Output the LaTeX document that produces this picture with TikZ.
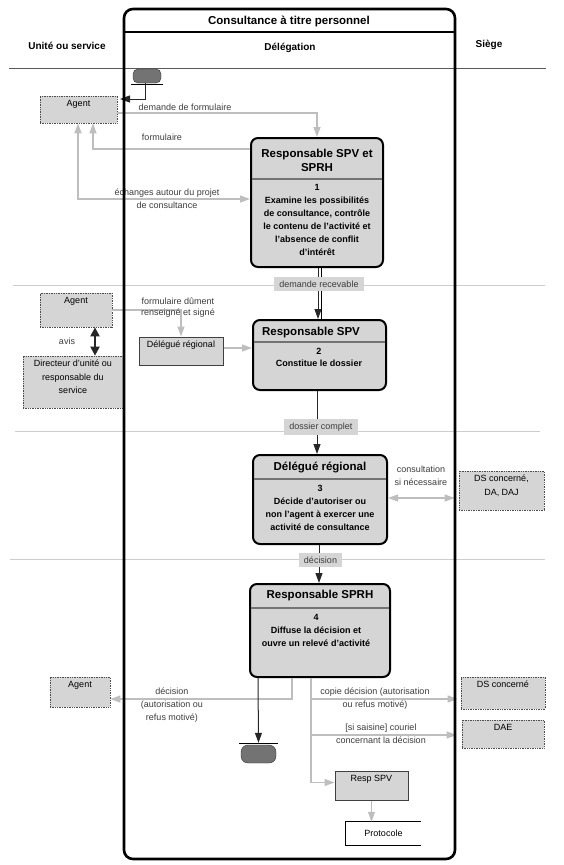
\documentclass[tikz,border=0pt]{standalone}
\usepackage{fontspec}
\setmainfont{Liberation Sans}
\usepackage{xcolor}
\usetikzlibrary{arrows.meta}
\usetikzlibrary{math}
\definecolor{qfill}{RGB}{213,213,213}
\definecolor{qline}{RGB}{190,190,190}
\definecolor{qtext}{RGB}{60,60,60}
\definecolor{qlane}{RGB}{205,205,205}

\begin{document}
\begin{tikzpicture}[x=1pt,y=-1pt,
  actbox/.style={draw, line width=2pt, rounded corners=7pt, fill=qfill, inner sep=0pt},
  sep/.style={draw=black!55, line width=2pt},
  acthead/.style={font=\fontsize{11.5}{14}\selectfont\bfseries, align=center, inner sep=0pt},
  acttext/.style={font=\fontsize{9}{13}\selectfont\bfseries, align=center, inner sep=0pt},
  boxlabel/.style={anchor=north, yshift=-4.5pt, inner sep=0pt, align=center, font=\fontsize{9}{13.5}\selectfont},
  extbox/.style={draw=black!70, densely dotted, line width=0.7pt, fill=qfill, inner sep=0pt, label={[boxlabel]north:#1}},
  intbox/.style={draw=black!75, line width=1pt, fill=qfill, inner sep=0pt, label={[boxlabel]north:#1}},
  note/.style={text=qtext, align=center, inner sep=0pt, font=\fontsize{9}{13}\selectfont},
  tag/.style={fill=qfill, text=qtext, inner xsep=5pt, inner ysep=4pt, font=\fontsize{9}{11}\selectfont},
  pill/.style={draw=black!80, fill=black!55, inner sep=0pt},
  grayflow/.style={draw=qline, line width=1.3pt, -{Triangle[length=10pt,width=7pt]}},
  blackflow/.style={draw=black!85, line width=1pt, -{Triangle[length=10pt,width=7pt]}},
  lane/.style={draw=qlane, line width=0.9pt},
  lanehead/.style={font=\fontsize{10}{12}\selectfont\bfseries}
]

\tikzmath{
\W = 563;
\H = 865;
%frame
\fl = 124;
\fr = 455;
\ft = 9;
\fb = 859;
\fh = 32; %title band
}

\useasboundingbox (0,0) rectangle (\W,\H);

%lanes:
\draw[lane, draw=black!65] (9,68) -- (546,68);
\draw[lane] (13,285) -- (545,285);
\draw[lane] (15,431) -- (540,431);
\draw[lane] (10,559) -- (545,559);

%headers:
\node[font=\fontsize{11.5}{14}\selectfont\bfseries] (htitle) at (289,21) {Consultance à titre personnel};
\node[lanehead] (hunit) at (67,46) {Unité ou service};
\node[lanehead] (hdel) at (290,48) {Délégation};
\node[lanehead] (hsiege) at (489,45) {Siège};

%start and end
\node[pill, rounded corners=5pt, minimum width=28pt, minimum height=14pt] (start) at (147,76) {};
\draw[line width=0.8pt] (131,84) -- (163,84);
\node[pill, rounded corners=7pt, minimum width=35pt, minimum height=18pt] (stop) at (258.5,754) {};
\draw[line width=0.8pt] (239,743) -- (278,743);

%actions
\node[actbox, minimum width=132pt, minimum height=129pt] (b1) at (317,202.5) {};
\draw[sep] (252,179) -- (382,179);
\node[acthead] (b1h) at (317,160) {Responsable SPV et\\SPRH};
\node[acttext] (b1t) at (317,220) {1\\Examine les possibilités\\de consultance, contrôle\\le contenu de l'activité et\\l'absence de conflit\\d'intérêt};

\node[actbox, minimum width=133pt, minimum height=70pt] (b2) at (319.5,355) {};
\draw[sep] (254,342) -- (385,342);
\node[acthead] (b2h) at (311,333) {Responsable SPV};
\node[acttext, font=\fontsize{9}{12}\selectfont\bfseries] (b2t) at (319,357) {2\\Constitue le dossier};

\node[actbox, minimum width=134pt, minimum height=89pt] (b3) at (320,499.5) {};
\draw[sep] (254,479) -- (386,479);
\node[acthead] (b3h) at (320,467) {Délégué régional};
\node[acttext] (b3t) at (320,507.5) {3\\Décide d'autoriser ou\\non l'agent à exercer une\\activité de consultance};

\node[actbox, minimum width=140pt, minimum height=93pt] (b4) at (320,630.5) {};
\draw[sep] (251,608) -- (389,608);
\node[acthead] (b4h) at (320,596) {Responsable SPRH};
\node[acttext] (b4t) at (316,630) {4\\Diffuse la décision et\\ouvre un relevé d'activité};

%other boxes
\node[extbox=Agent, minimum width=77pt, minimum height=27pt] (agent1) at (78.5,109.5) {};
\node[extbox=Agent, minimum width=72pt, minimum height=34pt] (agent2) at (76,310) {};
\node[extbox={Directeur d'unité ou\\responsable du\\service}, minimum width=100pt, minimum height=52pt] (dir) at (73,382) {};
\node[intbox={Délégué régional}, minimum width=84pt, minimum height=28pt] (dr) at (181,351) {};
\node[extbox={DS concerné,\\DA, DAJ}, minimum width=85pt, minimum height=39pt] (ds3) at (501.5,490.5) {};
\node[extbox=Agent, minimum width=60pt, minimum height=30pt] (agent3) at (80,692) {};
\node[extbox={DS concerné}, minimum width=84pt, minimum height=32pt] (ds4) at (503,693) {};
\node[extbox=DAE, minimum width=82pt, minimum height=28pt] (dae) at (503,734) {};
\node[intbox={Resp SPV}, minimum width=73pt, minimum height=29pt] (rspv) at (371.5,785.5) {};
\node[minimum width=75pt, minimum height=23pt, inner sep=0pt, font=\fontsize{9}{11}\selectfont] (proto) at (383.5,833.5) {Protocole};
\draw[line width=0.8pt] (proto.north east) -- (proto.north west) -- (proto.south west) -- (proto.south east);

\coordinate (a1in) at (120,99);
\coordinate (c4) at ([xshift=-9pt]b4.south);
\coordinate (d4in) at ([xshift=-3pt,yshift=-6pt]ds4.west);
\coordinate (daein) at ([xshift=-5pt,yshift=-1pt]dae.west);

%flows, lane 1
\draw[blackflow] ([xshift=-2pt]start.south) |- (a1in);
\draw[grayflow] ([yshift=-3.5pt]agent1.east) -| (b1.north);
\draw[grayflow] ([yshift=53.5pt]b1.west) -| ([xshift=14.5pt]agent1.south);
\draw[grayflow, {Triangle[length=10pt,width=7pt]}-{Triangle[length=10pt,width=7pt]}] ([xshift=-0.5pt]agent1.south) |- ([yshift=3.5pt]b1.west);
\node[note] (n1) at (185,107) {demande de formulaire};
\node[note] (n2) at (162,137) {formulaire};
\node[note] (n3) at (167,198.5) {échanges autour du projet\\de consultance};

%lane 2
\draw[blackflow] ([xshift=1pt]b1.south) -- ([xshift=-1.5pt]b2.north);
\draw[line width=1pt] ([xshift=4pt]b1.south) -- ([xshift=1.5pt]b2.north);
\node[tag] (t1) at (319,284) {demande recevable};
\draw[grayflow] (agent2.east) -| (dr.north);
\draw[grayflow] ([yshift=3pt]dr.east) -- ([yshift=3pt]dr.east -| b2.west);
\draw[blackflow, line width=2pt, {Triangle[length=9pt,width=9pt]}-{Triangle[length=9pt,width=9pt]}] ([xshift=19pt]agent2.south) -- ([xshift=19pt]agent2.south |- dir.north);
\node[note] (n4) at (67,341) {avis};
\node[note, font=\fontsize{9}{11.5}\selectfont] (n5) at (178,307.5) {formulaire dûment\\renseigné et signé};

%lane 3
\draw[blackflow] ([xshift=-2.5pt]b2.south) -- ([xshift=-3pt]b3.north);
\node[tag] (t2) at (321,427) {dossier complet};
\draw[grayflow, {Triangle[length=10pt,width=7pt]}-{Triangle[length=10pt,width=7pt]}] ([yshift=1.5pt]b3.east) -- ([xshift=-4pt,yshift=1.5pt]b3.east -| ds3.west);
\node[note] (n6) at (421,476) {consultation\\si nécessaire};

%lane 4
\draw[blackflow] ([xshift=-1pt]b3.south) -- ([xshift=-1pt]b4.north);
\node[tag] (t3) at (320.5,560) {décision};
\draw[grayflow] ([xshift=-28pt]b4.south) |- ([yshift=-7pt]agent3.east);
\draw[blackflow] ([xshift=-62pt]b4.south) -- ([yshift=2pt]stop.north);
\draw[grayflow] (c4) |- ([yshift=3pt]rspv.west);
\draw[grayflow] (c4 |- d4in) -- (d4in);
\draw[grayflow] (c4 |- daein) -- (daein);
\draw[grayflow] (rspv.south) -- (rspv.south |- proto.north);
\node[note] (n7) at (172,705) {décision\\(autorisation ou\\refus motivé)};
\node[note] (n8) at (375,698.5) {copie décision (autorisation\\ou refus motivé)};
\node[note] (n9) at (381,734) {[si saisine] couriel\\concernant la décision};

%frame
\draw[line width=2.6pt, rounded corners=9pt] (\fl,\ft) rectangle (\fr,\fb);
\draw[line width=1.4pt] (\fl,\fh) -- (\fr,\fh);

\end{tikzpicture}
\end{document}
